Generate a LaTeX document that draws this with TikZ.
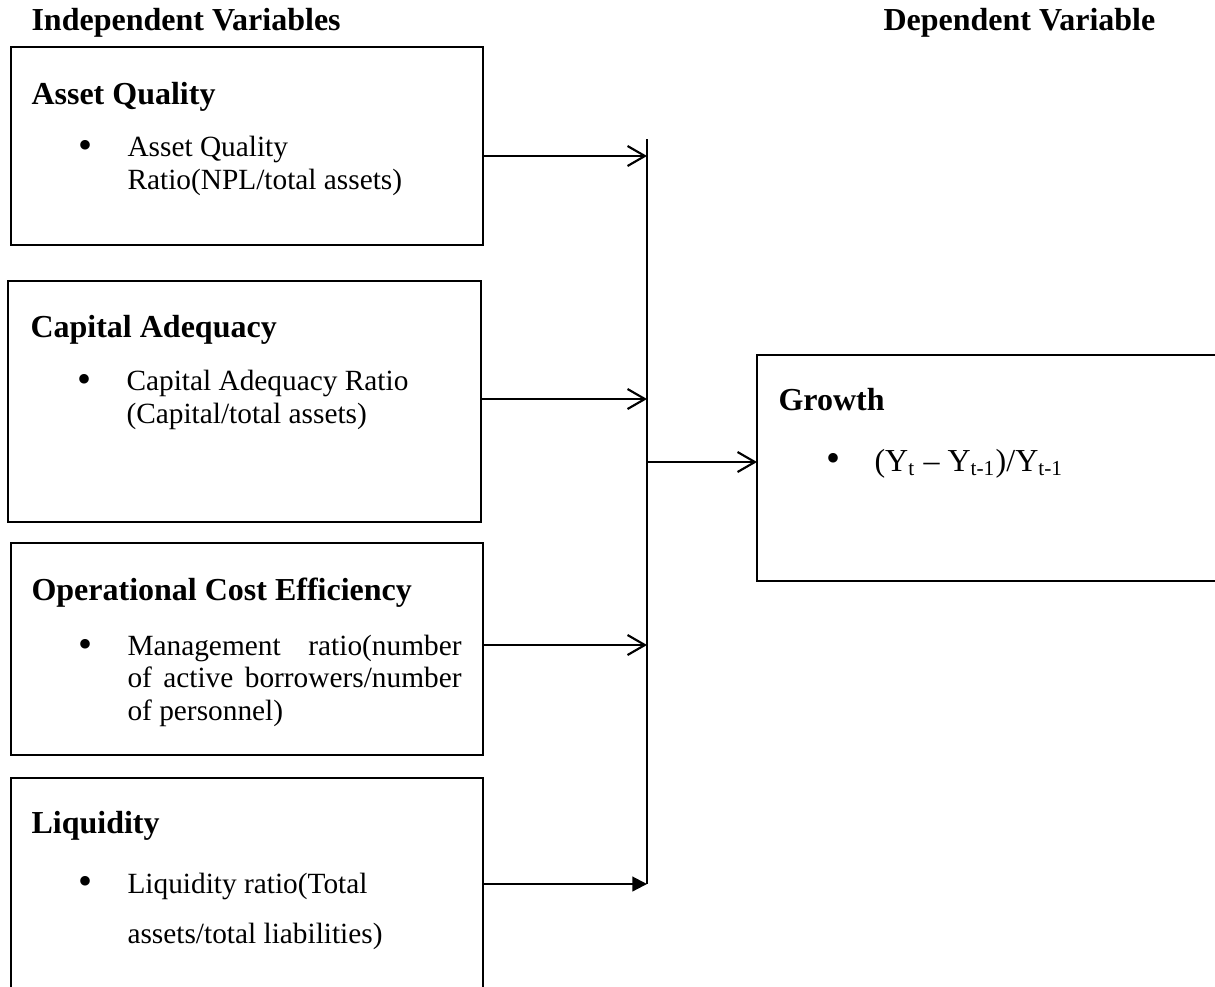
\documentclass[tikz,border=0pt]{standalone}
\usepackage{fontspec}
\setmainfont{Liberation Serif}
\usetikzlibrary{arrows.meta,fit}
\begin{document}
\begin{tikzpicture}[x=0.375pt,y=-0.375pt,
  box/.style={draw, line width=0.9pt, inner sep=0pt, outer sep=0pt},
  head/.style={anchor=base west, inner sep=0pt, font=\fontsize{12}{14}\selectfont\bfseries},
  body/.style={anchor=base west, inner sep=0pt, align=left, font=\fontsize{11}{12.1}\selectfont},
  widebody/.style={anchor=base west, inner sep=0pt, align=left, font=\fontsize{11}{18.4}\selectfont},
  bigbody/.style={anchor=base west, inner sep=0pt, align=left, font=\fontsize{12}{14}\selectfont},
  bul/.style={anchor=base, inner sep=0pt, font=\fontsize{15}{16}\selectfont},
  conn/.style={line width=0.8pt},
  openarr/.style={conn, -{Straight Barb[length=6.5pt,width=7.5pt,line width=0.8pt]}},
  fillarr/.style={conn, -{Triangle[length=5.5pt,width=5.5pt]}},
]
\useasboundingbox (0,0) rectangle (1215,986);
\clip (0,0) rectangle (1215,986);

% column headings
\node[head] (hInd) at (31,30) {Independent Variables};
\node[head] (hDep) at (883,30) {Dependent Variable};

% boxes
\node[box, fit={(11,47) (483,245)}] (b1) {};
\node[box, fit={(8,281) (481,522)}] (b2) {};
\node[box, fit={(11,543) (483,755)}] (b3) {};
\node[box, fit={(11,778) (483,1000)}] (b4) {};
\node[box, fit={(757,355) (1225,581)}] (g) {};

% box 1 (multi-line nodes: base anchor = last line)
\node[head] (t1) at (31,104) {Asset Quality};
\node[bul] (d1) at (86,158) {•};
\node[body] (s1) at (127,189) {Asset Quality\\Ratio(NPL/total assets)};

% box 2
\node[head] (t2) at (30,337) {Capital Adequacy};
\node[bul] (d2) at (84,392) {•};
\node[body] (s2) at (126,423) {Capital Adequacy Ratio\\(Capital/total assets)};

% box 3
\node[head] (t3) at (31,600) {Operational Cost Efficiency};
\node[bul] (d3) at (86,657) {•};
\node[body] (s3) at (127,720) {\makebox[125.25pt][s]{Management ratio(number}\\
  \makebox[125.25pt][s]{of active borrowers/number}\\of personnel)};

% box 4
\node[head] (t4) at (31,833) {Liquidity};
\node[bul] (d4) at (86,894) {•};
\node[widebody] (s4) at (127,943) {Liquidity ratio(Total\\assets/total liabilities)};

% growth
\node[head] (tg) at (778,410) {Growth};
\node[bul] (dg) at (833,471) {•};
\node[bigbody] (sg) at (874,471) {(Y\textsubscript{t} – Y\textsubscript{t-1})/Y\textsubscript{t-1}};

% connectors
\coordinate (top) at (647,139);
\coordinate (j1) at (647,156);
\coordinate (j2) at (647,399);
\coordinate (jg) at (647,462);
\coordinate (j3) at (647,645);
\coordinate (j4) at (647,884);
\draw[conn] (top) -- (j4);
\draw[openarr] (b1.east |- j1) -- (j1);
\draw[openarr] (b2.east |- j2) -- (j2);
\draw[openarr] (b3.east |- j3) -- (j3);
\draw[fillarr] (b4.east |- j4) -- (j4);
\draw[openarr] (jg) -- (g.west |- jg);
\end{tikzpicture}
\end{document}
